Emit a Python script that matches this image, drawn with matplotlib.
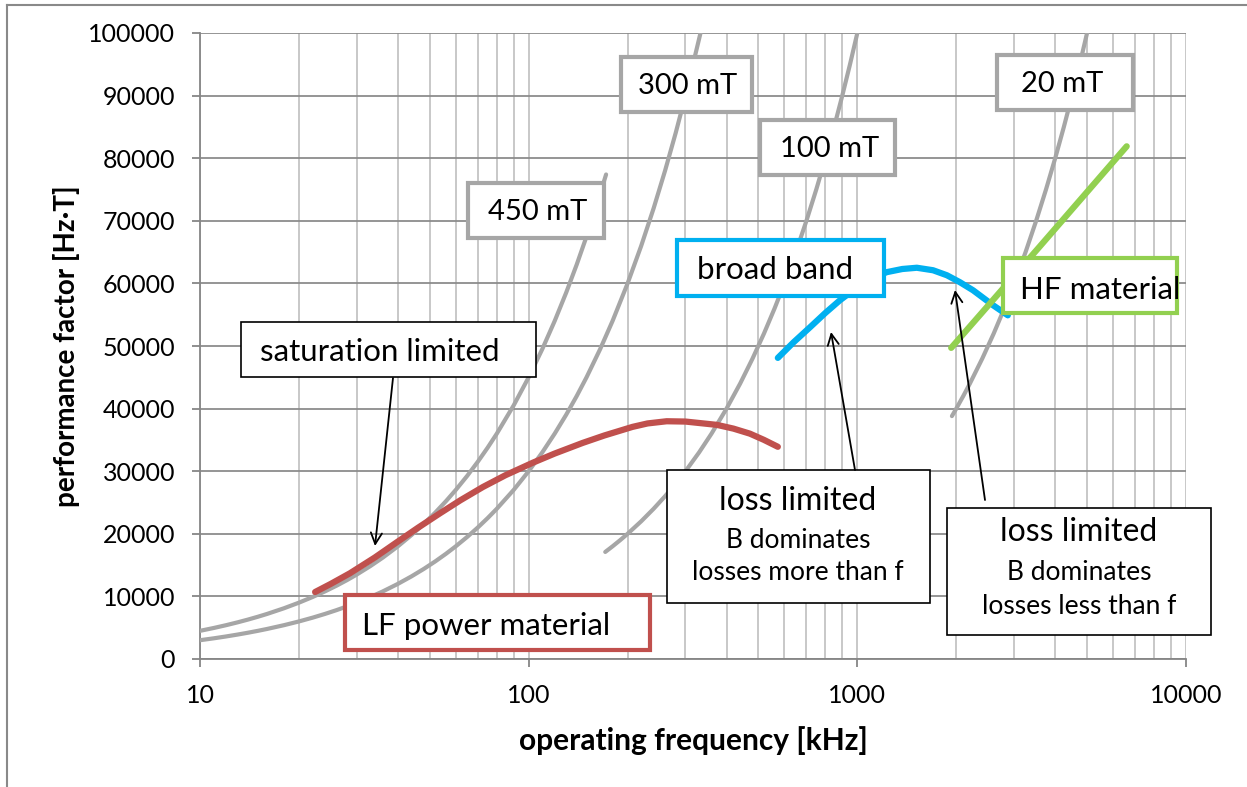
import numpy as np
import matplotlib
matplotlib.use('Agg')
import matplotlib.pyplot as plt
from matplotlib.patches import Rectangle, FancyArrowPatch
from matplotlib.lines import Line2D
from matplotlib.ticker import FixedLocator, FixedFormatter, LogLocator, NullFormatter

plt.rcParams['font.family'] = ['Lato', 'DejaVu Sans']

# constant flux density lines (f in kHz, performance factor in Hz*T)
f_450 = [10, 11, 12, 13, 14, 15, 16, 18, 20, 22, 24, 26, 28, 30, 33, 36, 40, 44, 48, 52, 56, 60,
         65, 70, 75, 80, 90, 100, 110, 120, 130, 140, 150, 160, 172]
pf_450 = [4500, 4950, 5400, 5850, 6300, 6750, 7200, 8100, 9000, 9900, 10800, 11700, 12600, 13500,
          14850, 16200, 18000, 19800, 21600, 23400, 25200, 27000, 29250, 31500, 33750, 36000,
          40500, 45000, 49500, 54000, 58500, 63000, 67500, 72000, 77400]
f_300 = [10, 11, 12, 13, 14, 15, 16, 18, 20, 22, 24, 26, 28, 30, 33, 36, 40, 44, 48, 52, 56, 60,
         65, 70, 75, 80, 90, 100, 110, 120, 130, 140, 150, 165, 180, 200, 220, 240, 260, 280, 300, 334]
pf_300 = [3000, 3300, 3600, 3900, 4200, 4500, 4800, 5400, 6000, 6600, 7200, 7800, 8400, 9000,
          9900, 10800, 12000, 13200, 14400, 15600, 16800, 18000, 19500, 21000, 22500, 24000,
          27000, 30000, 33000, 36000, 39000, 42000, 45000, 49500, 54000, 60000, 66000, 72000,
          78000, 84000, 90000, 100200]
f_100 = [171, 180, 190, 200, 220, 240, 260, 280, 300, 330, 360, 400, 440, 480, 520, 560, 600,
         650, 700, 750, 800, 850, 900, 950, 1000]
pf_100 = [17100, 18000, 19000, 20000, 22000, 24000, 26000, 28000, 30000, 33000, 36000, 40000,
          44000, 48000, 52000, 56000, 60000, 65000, 70000, 75000, 80000, 85000, 90000, 95000, 100000]
f_20 = [1940, 2000, 2100, 2200, 2400, 2600, 2800, 3000, 3250, 3500, 3750, 4000, 4250, 4500, 4750, 5000]
pf_20 = [38800, 40000, 42000, 44000, 48000, 52000, 56000, 60000, 65000, 70000, 75000, 80000,
         85000, 90000, 95000, 100000]

# material curves
lf_f = [22.4, 25, 28.6, 34, 40.6, 46, 53.7, 62, 72.6, 85, 103, 120, 146, 170, 207, 230, 263,
        300, 374, 420, 471, 520, 573]
lf_pf = [10700, 12000, 13700, 16200, 19000, 20950, 23270, 25360, 27480, 29360, 31360, 32820,
         34520, 35710, 37080, 37630, 37980, 37930, 37400, 36800, 36000, 35000, 33900]
bb_f = [573, 640, 718, 800, 885, 1000, 1100, 1230, 1370, 1517, 1700, 1873, 2050, 2250, 2590, 2870]
bb_pf = [48100, 50600, 53000, 55300, 57300, 59400, 60800, 61800, 62300, 62500, 62100, 61300,
         60200, 58900, 56500, 54900]
hf_f = [1930, 3590, 6600]
hf_pf = [49700, 65900, 81900]

W, H = 1247, 787
def px(x, y):
    return (x / W, 1 - y / H)

fig = plt.figure(figsize=(W / 100, H / 100), dpi=100)
ax = fig.add_axes([200 / W, 1 - 659 / H, 986 / W, 626 / H])

gray = '#a6a6a6'
for f, pf in [(f_450, pf_450), (f_300, pf_300), (f_100, pf_100), (f_20, pf_20)]:
    ax.plot(f, pf, color=gray, lw=3, solid_capstyle='round', solid_joinstyle='round', zorder=3)
ax.plot(lf_f, lf_pf, color='#c0504d', lw=4.5, solid_capstyle='round', solid_joinstyle='round', zorder=4)
ax.plot(bb_f, bb_pf, color='#00b0f0', lw=4.5, solid_capstyle='round', solid_joinstyle='round', zorder=4)
ax.plot(hf_f, hf_pf, color='#92d050', lw=4.5, solid_capstyle='round', solid_joinstyle='round', zorder=4)

ax.set_xscale('log')
ax.set_xlim(10, 10000)
ax.set_ylim(0, 100000)
ax.xaxis.set_major_locator(FixedLocator([10, 100, 1000, 10000]))
ax.xaxis.set_major_formatter(FixedFormatter(['10', '100', '1000', '10000']))
ax.xaxis.set_minor_locator(LogLocator(base=10, subs=np.arange(2, 10)))
ax.xaxis.set_minor_formatter(NullFormatter())
ax.set_yticks(np.arange(0, 100001, 10000))
ax.set_yticklabels([str(v) for v in range(0, 100001, 10000)])

ax.grid(True, axis='y', which='major', color='#8c8c8c', lw=1.3)
ax.grid(True, axis='x', which='both', color='#bfbfbf', lw=1.2)
for s in ['top', 'right']:
    ax.spines[s].set_visible(False)
for s in ['left', 'bottom']:
    ax.spines[s].set_color('#868686')
    ax.spines[s].set_linewidth(1.3)
ax.tick_params(axis='both', which='major', length=6, width=1.3, color='#868686', labelsize=18)
ax.tick_params(axis='x', which='minor', length=0)
ax.tick_params(axis='y', pad=12)
ax.tick_params(axis='x', pad=12)
ax.set_axisbelow(True)

ax.set_xlabel('operating frequency [kHz]', fontsize=21.5, fontweight='bold', labelpad=14)
ax.set_ylabel('performance factor [Hz·T]', fontsize=20, fontweight='bold', labelpad=6)

# outer frame
fig.add_artist(Line2D([7 / W, 1], [1 - 5 / H, 1 - 5 / H], color='#898989', lw=1.5, transform=fig.transFigure))
fig.add_artist(Line2D([7 / W, 7 / W], [0, 1 - 5 / H], color='#898989', lw=1.5, transform=fig.transFigure))

def box(x0, y0, x1, y1, ec, lw):
    x, y = px(x0, y1)
    fig.add_artist(Rectangle((x, y), (x1 - x0) / W, (y1 - y0) / H, transform=fig.transFigure,
                             facecolor='white', edgecolor=ec, lw=lw, zorder=5))

def label(x, y, s, size=22.5):
    fig.text(*px(x, y), s, fontsize=size, ha='center', va='center', zorder=6)

def arrow(x0, y0, x1, y1):
    fig.add_artist(FancyArrowPatch(px(x0, y0), px(x1, y1), transform=fig.transFigure,
                   arrowstyle='->,head_length=8,head_width=4', color='black', lw=1.3, zorder=7,
                   mutation_scale=1, shrinkA=0, shrinkB=0))

box(621, 57, 752, 112, gray, 3)
label(688, 86, '300 mT', 21)
box(468, 183, 604, 238, gray, 3)
label(538, 212, '450 mT', 21)
box(760, 120, 895, 175, gray, 3)
label(830, 149, '100 mT', 21)
box(997, 55, 1133, 110, gray, 3)
label(1062, 84, '20 mT', 21)
box(677, 240, 884, 296, '#00b0f0', 3)
label(775, 270, 'broad band')
box(1003, 258, 1177, 313, '#92d050', 3)
label(1100, 290, 'HF material')
box(345, 595, 650, 650, '#c0504d', 3)
label(486, 626, 'LF power material')
box(241, 322, 536, 377, 'black', 1.2)
label(380, 352, 'saturation limited')
box(667, 470, 930, 603, 'black', 1.2)
label(798, 501, 'loss limited', 23)
label(798, 540, 'B dominates', 19)
label(798, 573, 'losses more than f', 19)
box(947, 508, 1211, 635, 'black', 1.2)
label(1079, 532, 'loss limited', 23)
label(1079, 572, 'B dominates', 19)
label(1079, 607, 'losses less than f', 19)

arrow(393, 378, 375, 546)
arrow(855, 470, 831, 332)
arrow(985, 500, 955, 290)

fig.savefig('out.png', dpi=100)
